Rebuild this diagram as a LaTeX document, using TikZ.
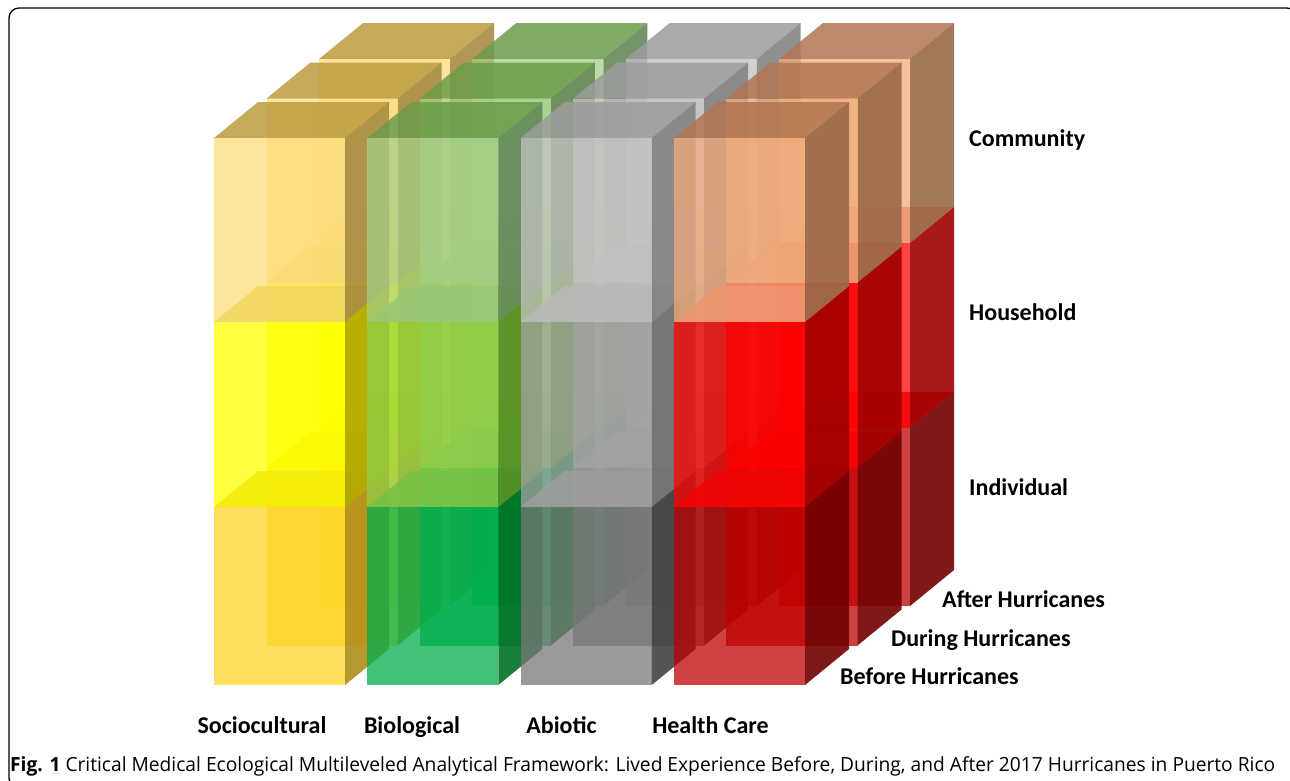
\documentclass[tikz,border=0pt]{standalone}
\usepackage{fontspec}
\usepackage{graphicx}
\setmainfont{Carlito}
\newfontfamily\capfont{Open Sans}
% front colours (F), side colours (S), top colours (T); c<column><row>, row 0 = Individual
\definecolor{c00F}{HTML}{FFD526}\definecolor{c00S}{HTML}{B08D19}\definecolor{c00T}{HTML}{D6B21C}
\definecolor{c01F}{HTML}{FFFF00}\definecolor{c01S}{HTML}{B0A700}\definecolor{c01T}{HTML}{D8CC10}
\definecolor{c02F}{HTML}{FDDC7A}\definecolor{c02S}{HTML}{A88C44}\definecolor{c02T}{HTML}{BD9A3E}
\definecolor{c10F}{HTML}{00AE4E}\definecolor{c10S}{HTML}{007224}\definecolor{c10T}{HTML}{2E9A44}
\definecolor{c11F}{HTML}{90CF4A}\definecolor{c11S}{HTML}{558F24}\definecolor{c11T}{HTML}{78B040}
\definecolor{c12F}{HTML}{A5CF88}\definecolor{c12S}{HTML}{678A59}\definecolor{c12T}{HTML}{6C9C4A}
\definecolor{c20F}{HTML}{787878}\definecolor{c20S}{HTML}{424242}\definecolor{c20T}{HTML}{8A8A8A}
\definecolor{c21F}{HTML}{A4A4A4}\definecolor{c21S}{HTML}{727272}\definecolor{c21T}{HTML}{9A9A9A}
\definecolor{c22F}{HTML}{C3C3C3}\definecolor{c22S}{HTML}{848484}\definecolor{c22T}{HTML}{9C9C9C}
\definecolor{c30F}{HTML}{BF0000}\definecolor{c30S}{HTML}{720000}\definecolor{c30T}{HTML}{C81010}
\definecolor{c31F}{HTML}{FF0000}\definecolor{c31S}{HTML}{A10000}\definecolor{c31T}{HTML}{E05040}
\definecolor{c32F}{HTML}{F2AC7C}\definecolor{c32S}{HTML}{9A6A48}\definecolor{c32T}{HTML}{B17651}
\tikzset{
  topface/.style={fill opacity=0.85},
  sideface/.style={fill opacity=0.9},
  frontface/.style={fill opacity=0.74},
  lbl/.style={font=\fontsize{24}{28}\selectfont\bfseries, inner sep=0pt},
  frame/.style={draw=black, line width=1.3pt, rounded corners=10pt}
}
\newcommand\cubebox[4]{%
  \fill[#4T, topface] (#1,#2) -- ({#1+131},#2) -- ({#1+175},{#2-36}) -- ({#1+44},{#2-36}) -- cycle;
  \fill[#4S, sideface] ({#1+131},#2) -- ({#1+131},#3) -- ({#1+175},{#3-36}) -- ({#1+175},{#2-36}) -- cycle;
  \fill[#4F, frontface] (#1,#2) rectangle ({#1+131},#3);
}
\begin{document}
\begin{tikzpicture}[x=1pt,y=-1pt]
\useasboundingbox (0,0) rectangle (1290,780);
\fill[white] (0,0) rectangle (1290,780);
\draw[frame] (9,8) rectangle (1297,788);
\foreach \k in {2,1,0}{
  \foreach \j in {0,1,2,3}{
    \foreach \i in {0,1,2}{
      \pgfmathsetmacro\X{214+153.33*\j+52.5*\k}
      \pgfmathsetmacro\Yb{{685,507,322}[\i]-39.5*\k}
      \pgfmathsetmacro\Yt{{507,322,138}[\i]-39.5*\k}
      \cubebox{\X}{\Yt}{\Yb}{c\j\i}
    }}}
\node[lbl, anchor=base west] (community) at (969,146) {Community};
\node[lbl, anchor=base west] (household) at (969,320) {Household};
\node[lbl, anchor=base west] (individual) at (969,495) {Individual};
\node[lbl, anchor=base west] (after) at (942,607) {After Hurricanes};
\node[lbl, anchor=base west] (during) at (891,646) {During Hurricanes};
\node[lbl, anchor=base west] (before) at (840,684) {Before Hurricanes};
\node[lbl, anchor=base] (socio) at (262,733) {Sociocultural};
\node[lbl, anchor=base] (bio) at (412,733) {Biological};
\node[lbl, anchor=base] (abiotic) at (561.5,733) {Abiotic};
\node[lbl, anchor=base] (health) at (710.5,733) {Health Care};
\node[anchor=base west, inner sep=0pt] (caption) at (10,771)
  {\resizebox{1265pt}{\height}{\capfont\fontsize{19.5}{23}\selectfont\textbf{Fig. 1} Critical Medical Ecological Multileveled Analytical Framework: Lived Experience Before, During, and After 2017 Hurricanes in Puerto Rico}};
\end{tikzpicture}
\end{document}
